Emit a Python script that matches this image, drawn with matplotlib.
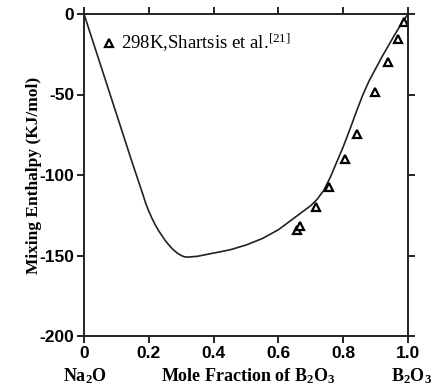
import matplotlib
matplotlib.use("Agg")
import matplotlib.pyplot as plt

plt.rcParams["mathtext.fontset"] = "custom"
plt.rcParams["mathtext.rm"] = "Liberation Serif"
plt.rcParams["mathtext.it"] = "Liberation Serif:italic"
plt.rcParams["mathtext.bf"] = "Liberation Serif:bold"
plt.rcParams["axes.unicode_minus"] = False

# Calculated mixing enthalpy curve, Na2O-B2O3 melt
curve_x = [0.0, 0.05, 0.10, 0.15, 0.17, 0.18, 0.19, 0.20, 0.21, 0.22, 0.23,
           0.24, 0.25, 0.26, 0.27, 0.28, 0.29, 0.30, 0.31, 0.32, 0.35, 0.40,
           0.45, 0.50, 0.55, 0.60, 0.65, 0.70, 0.72, 0.74, 0.76, 0.78, 0.80,
           0.82, 0.84, 0.86, 0.88, 0.90, 0.92, 0.94, 0.96, 0.98, 1.0]
curve_y = [0, -31, -62, -93, -105, -111, -117.3, -122.5, -127, -131, -134.5,
           -137.5, -140.5, -143, -145.3, -147.2, -148.8, -150, -150.8, -151,
           -150.5, -148.5, -146.5, -143.5, -139.5, -134, -126.5, -119, -115,
           -109.5, -101.5, -92, -82.5, -72, -61, -50.5, -41.5, -34, -26.5, -19.5,
           -12.5, -6, 0]

# Measured values, 298 K (Shartsis et al.)
exp_x = [0.658, 0.667, 0.715, 0.757, 0.806, 0.844, 0.898, 0.939, 0.970, 0.989]
exp_y = [-134.4, -131.5, -120, -107.5, -90, -74.3, -48.5, -30, -15.5, -5.2]

xticks = [0, 0.2, 0.4, 0.6, 0.8, 1.0]
xticklabels = ["0", "0.2", "0.4", "0.6", "0.8", "1.0"]
yticks = [0, -50, -100, -150, -200]

fig = plt.figure(figsize=(4.37, 3.86), dpi=100)
ax = fig.add_axes([84 / 437, 1 - 336 / 386, 324 / 437, 322 / 386])

ax.plot(curve_x, curve_y, color="#222222", lw=1.2)
ax.plot(exp_x, exp_y, linestyle="none", marker="^", markersize=5.5,
        markerfacecolor="white", markeredgecolor="black", markeredgewidth=1.6,
        label=r"298K,Shartsis et al.$^{\mathregular{[21]}}$")

ax.set_xlim(0, 1.0)
ax.set_ylim(-200, 0)
ax.set_xticks(xticks)
ax.set_xticklabels(xticklabels)
ax.set_yticks(yticks)

for s in ax.spines.values():
    s.set_linewidth(1.4)
    s.set_color("#222222")

ax.tick_params(direction="out", length=5, width=1.2, top=True, right=True,
               labeltop=False, labelright=False, pad=2)
for lab in ax.get_xticklabels() + ax.get_yticklabels():
    lab.set_fontfamily("Liberation Sans")
    lab.set_fontweight("bold")
    lab.set_fontsize(12.5)

ax.set_ylabel("Mixing Enthalpy (KJ/mol)", family="Liberation Serif",
              fontweight="bold", fontsize=12.5, labelpad=-2)

leg = ax.legend(loc="upper left", bbox_to_anchor=(0.04, 0.968), frameon=False,
                handlelength=0.5, handletextpad=0.4, borderaxespad=0,
                prop={"family": "Liberation Serif", "size": 13.5})

lab_kw = dict(family="Liberation Serif", fontweight="bold", fontsize=13,
              ha="center", va="center")
fig.text(85 / 437, 1 - 376 / 386, r"Na$_\mathregular{2}$O", **lab_kw)
fig.text(248 / 437, 1 - 376 / 386,
         r"Mole Fraction of B$_\mathregular{2}$O$_\mathregular{3}$", **lab_kw)
fig.text(412 / 437, 1 - 376 / 386, r"B$_\mathregular{2}$O$_\mathregular{3}$", **lab_kw)

fig.savefig("out.png", dpi=100)
